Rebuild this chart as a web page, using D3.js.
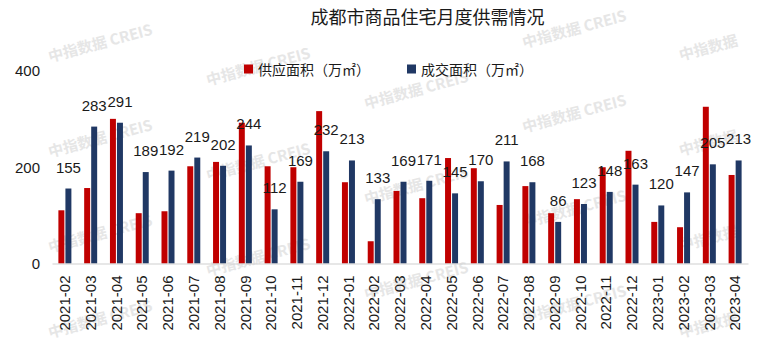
<!DOCTYPE html>
<html>
<head>
<meta charset="utf-8">
<script src="https://cdn.jsdelivr.net/npm/d3@7"></script>
<style>
html,body{margin:0;padding:0;background:#fff;}
svg{display:block;}
</style>
</head>
<body>
<svg id="chart" width="760" height="346"></svg>
<script>
const months = ['2021-02','2021-03','2021-04','2021-05','2021-06','2021-07','2021-08','2021-09','2021-10','2021-11','2021-12',
  '2022-01','2022-02','2022-03','2022-04','2022-05','2022-06','2022-07','2022-08','2022-09','2022-10','2022-11','2022-12',
  '2023-01','2023-02','2023-03','2023-04'];
const supply = [110,156,299,104,108,201,210,291,201,199,315,168,46,150,135,218,197,121,160,104,133,199,233,86,75,324,183];
const sales  = [155,283,291,189,192,219,202,244,112,169,232,213,133,169,171,145,170,211,168,86,123,148,163,120,147,205,213];
const seriesNames = ['供应面积（万㎡）','成交面积（万㎡）'];
const seriesColors = ['#C00000','#203864'];
const yTicks = [0,200,400];
const title = '成都市商品住宅月度供需情况';
const watermark = '中指数据 CREIS';
const watermarkShort = '中指数据';

const svg = d3.select('#chart');
const numFont = '"Liberation Sans", Arial, sans-serif';
const cjkFont = '"Noto Sans CJK SC", "Noto Sans", sans-serif';

const x = d3.scaleBand().domain(months).range([52, 748]).padding(0);
const sub = d3.scaleBand().domain([0,1]).range([-6.5, 6.5]).paddingInner(0.15);
const y = d3.scaleLinear().domain([0, 400]).range([263.5, 70]);

// watermarks (behind the bars), kept inside the picture
const wm = svg.append('g');
for (let i = 0; i < 5; i++) {
  for (let j = -1; j < 4; j++) {
    let cx = 100 + 158 * i;
    let cy = 42 + 23.5 * i + 95.3 * j;
    let txt = watermark;
    let ext = 28;
    if (i === 4) { txt = watermarkShort; cx -= 24; cy += 6; ext = 22; }
    if (cy < 0 || cy > 346) continue;
    cy = Math.max(ext, Math.min(346 - ext, cy));
    wm.append('text')
      .attr('transform', `translate(${cx},${cy}) rotate(-15)`)
      .attr('text-anchor', 'middle')
      .attr('dominant-baseline', 'central')
      .attr('font-family', cjkFont)
      .attr('font-weight', 'bold')
      .attr('font-size', 15)
      .attr('fill', '#e6e6e6')
      .text(txt);
  }
}

// title
svg.append('text')
  .attr('x', 427.5).attr('y', 16)
  .attr('text-anchor', 'middle')
  .attr('dominant-baseline', 'central')
  .attr('font-family', cjkFont)
  .attr('font-size', 18)
  .attr('fill', '#1a1a1a')
  .text(title);

// legend
const legendX = [244, 407];
seriesNames.forEach((n, k) => {
  const g = svg.append('g').attr('transform', `translate(${legendX[k]},69)`);
  g.append('rect').attr('x', 0).attr('y', -4.5).attr('width', 9).attr('height', 9).attr('fill', seriesColors[k]);
  g.append('text').attr('x', 14).attr('y', 0)
    .attr('dominant-baseline', 'central')
    .attr('font-family', cjkFont).attr('font-size', 14).attr('fill', '#1a1a1a')
    .text(n);
});

// y axis labels
const yAxis = d3.axisLeft(y).tickValues(yTicks).tickSize(0).tickPadding(0);
const ya = svg.append('g').attr('transform', 'translate(40,0)').call(yAxis);
ya.select('.domain').remove();
ya.selectAll('text').attr('font-family', numFont).attr('font-size', 15).attr('fill', '#1a1a1a').attr('dy', '0.35em').attr('x', 0);

// bars
const data = months.map((m, i) => ({m, vals: [supply[i], sales[i]]}));
const groups = svg.append('g').selectAll('g').data(data).join('g')
  .attr('transform', d => `translate(${x(d.m) + x.bandwidth() / 2},0)`);
groups.selectAll('rect').data(d => d.vals.map((v, k) => ({v, k}))).join('rect')
  .attr('x', d => sub(d.k))
  .attr('width', sub.bandwidth())
  .attr('y', d => y(d.v))
  .attr('height', d => y(0) - y(d.v))
  .attr('fill', d => seriesColors[d.k]);

// data labels (sales only)
groups.append('text')
  .attr('x', sub(1) + sub.bandwidth() / 2)
  .attr('y', (d) => y(d.vals[1]) - 16)
  .attr('text-anchor', 'middle')
  .attr('font-family', numFont)
  .attr('font-size', 15)
  .attr('fill', '#1a1a1a')
  .text(d => d.vals[1]);

// x axis
const xAxis = d3.axisBottom(x).tickSize(0).tickPadding(0);
const xa = svg.append('g').attr('transform', `translate(0,${y(0)})`).call(xAxis);
xa.select('.domain').attr('stroke', '#d0d0d0').attr('stroke-width', 1.2);
xa.selectAll('text')
  .attr('font-family', numFont).attr('font-size', 15).attr('fill', '#1a1a1a')
  .attr('transform', 'rotate(-90)')
  .attr('text-anchor', 'end')
  .attr('x', -12).attr('y', 0).attr('dy', '0.35em');
</script>
</body>
</html>
